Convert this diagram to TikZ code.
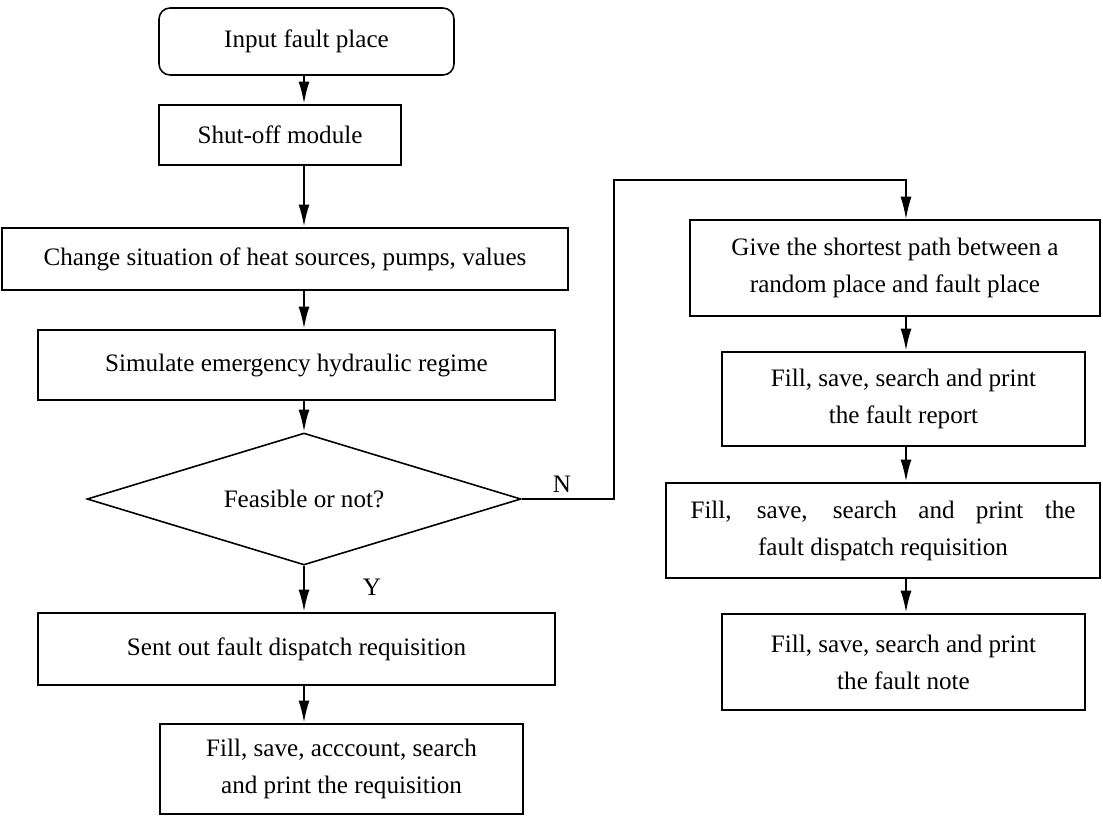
\documentclass[tikz,border=0pt]{standalone}
\usepackage{fontspec}
\setmainfont{Liberation Serif}
\usetikzlibrary{shapes.geometric, arrows.meta, positioning, calc}

\tikzset{
    block/.style={draw, line width=0.9pt, inner sep=0pt, align=center},
    rblock/.style={block, rounded corners=0.22cm},
    decision/.style={draw, diamond, line width=0.9pt, inner sep=0pt, aspect=3.29,
        minimum width=8.68cm, minimum height=2.64cm},
    flow/.style={line width=1.5pt, -{Latex[length=4.5mm,width=2.2mm]}},
    nline/.style={line width=0.9pt, -{Latex[length=4.5mm,width=2.2mm]}}
}

\begin{document}
\begin{tikzpicture}[x=0.02cm, y=-0.02cm, font=\fontsize{14.3}{21}\selectfont]
    \useasboundingbox (0,0) rectangle (1103,816);

    \node[rblock, minimum width=5.9cm, minimum height=1.34cm] (input) at (306.5,41.5) {Input fault place};
    \node[block, minimum width=4.84cm, minimum height=1.2cm] (shutoff) at (280,135) {Shut-off module};
    \node[block, minimum width=11.32cm, minimum height=1.24cm] (change) at (285,259) {Change situation of heat sources, pumps, values};
    \node[block, minimum width=10.34cm, minimum height=1.4cm] (simulate) at (296.5,365) {Simulate emergency hydraulic regime};
    \node[decision] (feasible) at (304,499) {Feasible or not?};
    \node[block, minimum width=10.34cm, minimum height=1.44cm] (sent) at (296.5,649) {Sent out fault dispatch requisition};
    \node[block, minimum width=7.26cm, minimum height=1.8cm] (fillreq) at (341.5,769) {Fill, save, acccount, search\\and print the requisition};

    \node[block, minimum width=8.2cm, minimum height=1.92cm] (shortest) at (895,268) {Give the shortest path between a\\random place and fault place};
    \node[block, minimum width=7.26cm, minimum height=1.88cm] (report) at (903.5,399) {Fill, save, search and print\\the fault report};
    \node[block, minimum width=8.68cm, minimum height=1.9cm] (dispatch) at (883,530.5) {\makebox[7.7cm][s]{Fill, save, search and print the}\\fault dispatch requisition};
    \node[block, minimum width=7.26cm, minimum height=1.92cm] (note) at (903.5,662) {Fill, save, search and print\\the fault note};

    \node (y) at (372,587) {Y};
    \node (n) at (562,484) {N};

    \coordinate (lx) at (304,0);
    \coordinate (rx) at (906,0);
    \coordinate (turn) at (614,180);

    \draw[flow] (input.south -| lx) -- (shutoff.north -| lx);
    \draw[flow] (shutoff.south -| lx) -- (change.north -| lx);
    \draw[flow] (change.south -| lx) -- (simulate.north -| lx);
    \draw[flow] (simulate.south -| lx) -- (feasible.north);
    \draw[flow] (feasible.south) -- (sent.north -| lx);
    \draw[flow] (sent.south -| lx) -- (fillreq.north -| lx);

    \draw[nline] (feasible.east) -| (turn) -| (shortest.north -| rx);
    \draw[flow] (shortest.south -| rx) -- (report.north -| rx);
    \draw[flow] (report.south -| rx) -- (dispatch.north -| rx);
    \draw[flow] (dispatch.south -| rx) -- (note.north -| rx);
\end{tikzpicture}
\end{document}
